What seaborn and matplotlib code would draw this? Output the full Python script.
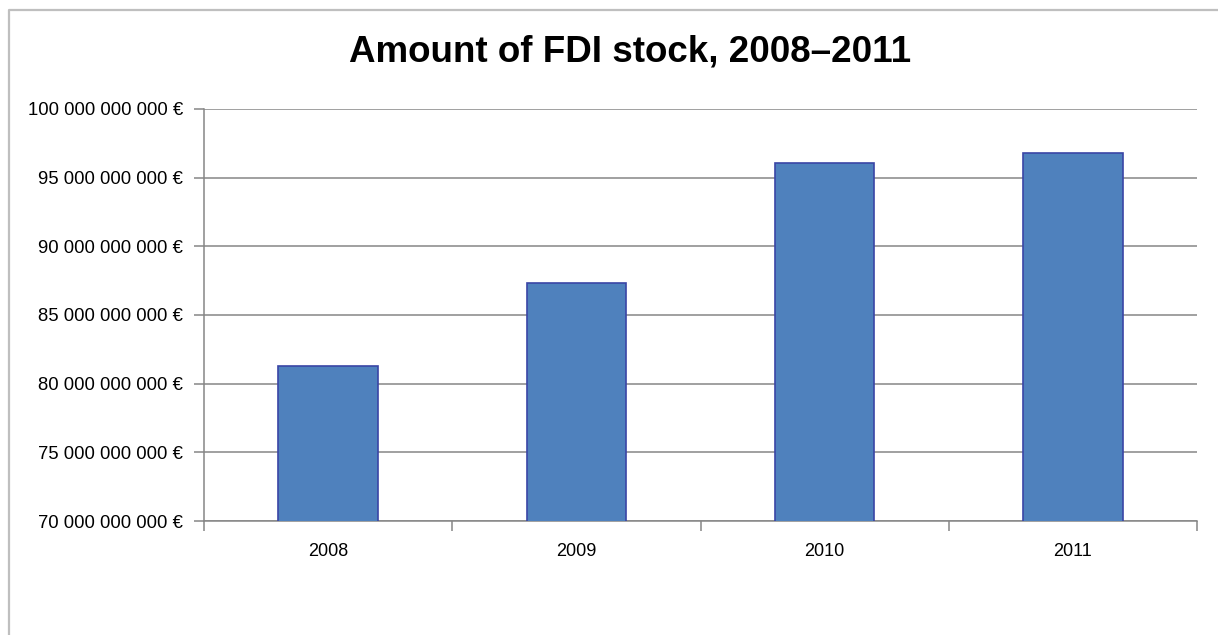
import matplotlib
matplotlib.use("Agg")
import matplotlib.pyplot as plt
import seaborn as sns
import pandas as pd
from matplotlib.ticker import FuncFormatter, FixedLocator
from matplotlib.lines import Line2D

# Data
years = ["2008", "2009", "2010", "2011"]
fdi_stock = [81.3e9, 87.3e9, 96.1e9, 96.8e9]

df = pd.DataFrame({"Year": years, "FDI": fdi_stock})

sns.set_style("white")
plt.rcParams['font.family'] = ['Liberation Sans', 'DejaVu Sans']
plt.rcParams['text.color'] = 'black'
plt.rcParams['xtick.color'] = 'black'
plt.rcParams['ytick.color'] = 'black'

fig = plt.figure(figsize=(12.18, 6.35), dpi=100)
ax = fig.add_axes([204 / 1218, 1 - 521 / 635, (1197 - 204) / 1218, (521 - 109) / 635])

sns.barplot(data=df, x="Year", y="FDI", ax=ax, color="#4F81BD", width=0.4,
            edgecolor="#3A45A5", linewidth=1.2, saturation=1, zorder=3)

ax.set_ylim(70e9, 100e9)
ax.set_xlim(-0.5, len(years) - 0.5)
ax.set_yticks([70e9, 75e9, 80e9, 85e9, 90e9, 95e9, 100e9])

def euro_fmt(v, pos):
    s = f"{int(round(v)):,}".replace(",", " ")
    return s + " €"

ax.yaxis.set_major_formatter(FuncFormatter(euro_fmt))
ax.grid(axis="y", color="#868686", linewidth=1.1, zorder=0)
ax.set_axisbelow(True)

# category boundary ticks on the x axis
ax.xaxis.set_minor_locator(FixedLocator([i - 0.5 for i in range(len(years) + 1)]))
ax.tick_params(axis="x", which="major", bottom=True, length=0, pad=16, labelsize=13,
               labelcolor="black")
ax.tick_params(axis="x", which="minor", bottom=True, length=7, color="#868686", width=1.1)
ax.tick_params(axis="y", which="major", left=True, length=7, color="#868686", width=1.1,
               labelsize=13.3, pad=8, labelcolor="black")

for side in ["top", "right"]:
    ax.spines[side].set_visible(False)
for side in ["left", "bottom"]:
    ax.spines[side].set_color("#868686")
    ax.spines[side].set_linewidth(1.1)

ax.set_xlabel("")
ax.set_ylabel("")

fig.text(630 / 1218, 1 - 52 / 635, "Amount of FDI stock, 2008\u20132011",
         ha="center", va="center", fontsize=26.5, fontweight="bold", color="black")

# chart area border
fig.add_artist(Line2D([8.5 / 1218, 8.5 / 1218, 1], [0, 1 - 9.5 / 635, 1 - 9.5 / 635],
                      transform=fig.transFigure, color="#BFBFBF", linewidth=1.6))

fig.savefig("out.png", dpi=100)
